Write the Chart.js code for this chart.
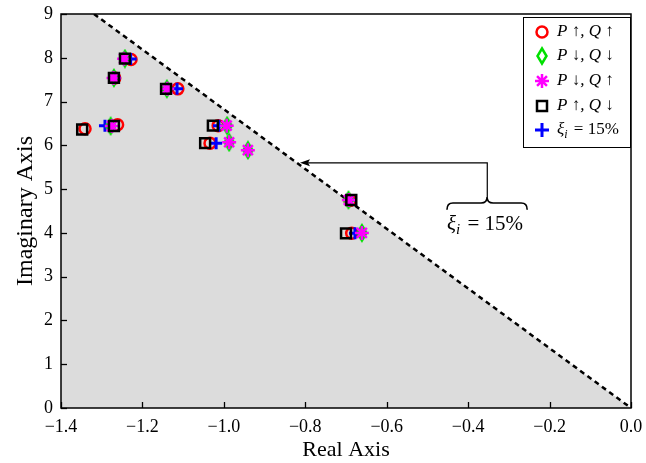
<!DOCTYPE html>
<html>
<head>
<meta charset="utf-8">
<script src="https://cdn.jsdelivr.net/npm/chart.js@4"></script>
<style>
  html, body { margin: 0; padding: 0; background: #fff; }
  #wrap { width: 646px; height: 463px; }
</style>
</head>
<body>
<div id="wrap"><canvas id="poleChart"></canvas></div>
<script>
// tick labels
var xTickLabels = ['\u22121.4', '\u22121.2', '\u22121.0', '\u22120.8', '\u22120.6', '\u22120.4', '\u22120.2', '0.0'];
var yTickLabels = ['0', '1', '2', '3', '4', '5', '6', '7', '8', '9'];

// series names
var seriesNames = ['P \u2191, Q \u2191', 'P \u2193, Q \u2193', 'P \u2193, Q \u2191', 'P \u2191, Q \u2193'];

// P up, Q up (red circles)
var upUpRe = [-1.341, -1.261, -1.228, -1.268, -1.113, -1.014, -1.034, -0.690, -0.686];
var upUpIm = [6.38, 6.47, 7.96, 7.54, 7.29, 6.45, 6.05, 4.74, 3.99];
// P down, Q down (green diamonds)
var downDownRe = [-1.278, -1.243, -1.270, -1.140, -0.992, -0.987, -0.941, -0.694, -0.661];
var downDownIm = [6.44, 7.98, 7.54, 7.29, 6.45, 6.07, 5.89, 4.75, 4.00];
// P down, Q up (magenta stars)
var downUpRe = [-1.275, -1.245, -1.271, -1.139, -0.993, -0.987, -0.941, -0.693, -0.661];
var downUpIm = [6.44, 7.98, 7.54, 7.29, 6.45, 6.07, 5.89, 4.75, 4.00];
// P up, Q down (black squares)
var upDownRe = [-1.348, -1.270, -1.243, -1.270, -1.142, -1.027, -1.046, -0.687, -0.700];
var upDownIm = [6.36, 6.44, 7.98, 7.54, 7.29, 6.45, 6.05, 4.75, 3.99];
// xi_i = 15% (blue plus)
var xi15Re = [-1.292, -1.229, -1.268, -1.115, -1.012, -1.019, -0.690, -0.678];
var xi15Im = [6.45, 7.97, 7.54, 7.29, 6.45, 6.05, 4.75, 3.99];

// 15% damping boundary (top end and origin)
var boundRe = [-1.319, 0.0];
var boundIm = [9, 0];

function toPoints(xs, ys) {
    return xs.map(function (x, i) { return { x: x, y: ys[i] }; });
}

// tall thin diamond marker (like matlab 'd')
function makeDiamond(w, h, color, lw) {
    var c = document.createElement('canvas');
    c.width = w + lw * 2;
    c.height = h + lw * 2;
    var g = c.getContext('2d');
    var cx = c.width / 2, cy = c.height / 2;
    g.strokeStyle = color;
    g.lineWidth = lw;
    g.beginPath();
    g.moveTo(cx, cy - h / 2);
    g.lineTo(cx + w / 2, cy);
    g.lineTo(cx, cy + h / 2);
    g.lineTo(cx - w / 2, cy);
    g.closePath();
    g.stroke();
    return c;
}
var diamondImg = makeDiamond(9, 15, '#00e000', 2.5);

var serif = "'Liberation Serif', 'DejaVu Serif', serif";

// draw inward ticks + frame
var frameTicks = {
    id: 'frameTicks',
    afterDatasetsDraw: function (chart) {
        var ctx = chart.ctx, a = chart.chartArea;
        var xs = chart.scales.x, ys = chart.scales.y;
        ctx.save();
        ctx.strokeStyle = '#000';
        ctx.lineWidth = 1.3;
        xs.ticks.forEach(function (t) {
            var px = Math.round(xs.getPixelForValue(t.value)) + 0.5;
            ctx.beginPath();
            ctx.moveTo(px, a.bottom);
            ctx.lineTo(px, a.bottom - 6);
            ctx.stroke();
        });
        ys.ticks.forEach(function (t) {
            var py = Math.round(ys.getPixelForValue(t.value)) + 0.5;
            ctx.beginPath();
            ctx.moveTo(a.left, py);
            ctx.lineTo(a.left + 6, py);
            ctx.stroke();
        });
        ctx.lineWidth = 1.5;
        ctx.strokeRect(a.left, a.top, a.right - a.left, a.bottom - a.top);
        ctx.restore();
    }
};

// arrow, brace and label for the 15% line
var annot = {
    id: 'annot',
    afterDatasetsDraw: function (chart) {
        var ctx = chart.ctx, xs = chart.scales.x, ys = chart.scales.y;
        var tipX = xs.getPixelForValue(-0.813);
        var cornerX = xs.getPixelForValue(-0.353);
        var lineY = ys.getPixelForValue(5.6);
        var braceTop = ys.getPixelForValue(4.82);
        var braceL = xs.getPixelForValue(-0.452);
        var braceR = xs.getPixelForValue(-0.255);
        var braceBot = ys.getPixelForValue(4.53);
        var textY = ys.getPixelForValue(4.2);
        ctx.save();
        ctx.strokeStyle = '#000';
        ctx.fillStyle = '#000';
        ctx.lineWidth = 1.2;
        ctx.beginPath();
        ctx.moveTo(tipX + 6, lineY);
        ctx.lineTo(cornerX, lineY);
        ctx.lineTo(cornerX, braceTop);
        ctx.stroke();
        // arrow head
        ctx.beginPath();
        ctx.moveTo(tipX, lineY);
        ctx.lineTo(tipX + 10, lineY - 3.5);
        ctx.lineTo(tipX + 8, lineY);
        ctx.lineTo(tipX + 10, lineY + 3.5);
        ctx.closePath();
        ctx.fill();
        // over brace
        var mid = (braceL + braceR) / 2;
        var hy = braceTop + 6;
        ctx.lineWidth = 1.6;
        ctx.beginPath();
        ctx.moveTo(braceL, braceBot);
        ctx.quadraticCurveTo(braceL, hy, braceL + 6, hy);
        ctx.lineTo(mid - 6, hy);
        ctx.quadraticCurveTo(mid, hy, mid, braceTop);
        ctx.quadraticCurveTo(mid, hy, mid + 6, hy);
        ctx.lineTo(braceR - 6, hy);
        ctx.quadraticCurveTo(braceR, hy, braceR, braceBot);
        ctx.stroke();
        // label
        drawXi(ctx, braceL, textY, 21);
        ctx.restore();
    }
};

function drawXi(ctx, x, y, size) {
    ctx.textBaseline = 'middle';
    ctx.textAlign = 'left';
    ctx.fillStyle = '#000';
    ctx.font = 'italic ' + size + 'px ' + serif;
    ctx.fillText('\u03be', x, y);
    var w = ctx.measureText('\u03be').width;
    ctx.font = 'italic ' + Math.round(size * 0.7) + 'px ' + serif;
    ctx.fillText('i', x + w, y + size * 0.3);
    var w2 = ctx.measureText('i').width;
    ctx.font = size + 'px ' + serif;
    ctx.fillText(' = 15%', x + w + w2 + 2, y);
}

// legend box in the upper right corner
var legendBox = {
    id: 'legendBox',
    afterDraw: function (chart) {
        var ctx = chart.ctx, a = chart.chartArea;
        var left = a.right - 108, top = a.top + 3, right = a.right - 1, bottom = a.top + 133;
        ctx.save();
        ctx.fillStyle = '#fff';
        ctx.fillRect(left, top, right - left, bottom - top);
        ctx.strokeStyle = '#000';
        ctx.lineWidth = 1;
        ctx.strokeRect(left + 0.5, top + 0.5, right - left, bottom - top);
        var mx = left + 19, tx = left + 34;
        var rowY = [top + 15, top + 39, top + 64, top + 89, top + 113];
        // circle
        ctx.lineWidth = 2.5;
        ctx.strokeStyle = '#ff0000';
        ctx.beginPath();
        ctx.arc(mx, rowY[0], 5.5, 0, Math.PI * 2);
        ctx.stroke();
        // diamond
        ctx.drawImage(diamondImg, mx - diamondImg.width / 2, rowY[1] - diamondImg.height / 2);
        // star
        ctx.strokeStyle = '#ff00ff';
        ctx.beginPath();
        for (var k = 0; k < 4; k++) {
            var ang = k * Math.PI / 4;
            ctx.moveTo(mx - 7 * Math.sin(ang), rowY[2] - 7 * Math.cos(ang));
            ctx.lineTo(mx + 7 * Math.sin(ang), rowY[2] + 7 * Math.cos(ang));
        }
        ctx.stroke();
        // square
        ctx.strokeStyle = '#000';
        ctx.strokeRect(mx - 5, rowY[3] - 5, 10, 10);
        // plus
        ctx.strokeStyle = '#0000ff';
        ctx.lineWidth = 3;
        ctx.beginPath();
        ctx.moveTo(mx - 7, rowY[4]);
        ctx.lineTo(mx + 7, rowY[4]);
        ctx.moveTo(mx, rowY[4] - 7);
        ctx.lineTo(mx, rowY[4] + 7);
        ctx.stroke();
        // texts
        ctx.fillStyle = '#000';
        ctx.textBaseline = 'middle';
        ctx.font = 'italic 17px ' + serif;
        for (var i = 0; i < 4; i++) {
            ctx.fillText(seriesNames[i], tx, rowY[i]);
        }
        drawXi(ctx, tx, rowY[4], 17);
        ctx.restore();
    }
};

var ctx = document.getElementById('poleChart').getContext('2d');
var poleChart = new Chart(ctx, {
    type: 'scatter',
    data: {
        datasets: [{
            // shaded region left of the 15% line
            data: [{ x: -1.4, y: boundIm[0] }].concat(toPoints(boundRe, boundIm)),
            showLine: true,
            fill: 'origin',
            backgroundColor: '#dcdcdc',
            borderWidth: 0,
            pointRadius: 0,
            order: 20
        }, {
            data: toPoints(boundRe, boundIm),
            showLine: true,
            borderColor: '#000',
            borderWidth: 2.5,
            borderDash: [5, 4],
            pointRadius: 0,
            order: 19
        }, {
            label: seriesNames[0],
            data: toPoints(upUpRe, upUpIm),
            pointStyle: 'circle',
            pointRadius: 5.5,
            borderColor: '#ff0000',
            backgroundColor: 'rgba(0,0,0,0)',
            borderWidth: 2.5,
            order: 6
        }, {
            label: 'xi15',
            data: toPoints(xi15Re, xi15Im),
            pointStyle: 'cross',
            pointRadius: 6,
            borderColor: '#0000ff',
            borderWidth: 3,
            order: 5
        }, {
            label: seriesNames[1],
            data: toPoints(downDownRe, downDownIm),
            pointStyle: diamondImg,
            order: 4
        }, {
            label: seriesNames[2],
            data: toPoints(downUpRe, downUpIm),
            pointStyle: 'star',
            pointRadius: 7,
            borderColor: '#ff00ff',
            backgroundColor: '#ff00ff',
            borderWidth: 2.5,
            order: 3
        }, {
            label: seriesNames[3],
            data: toPoints(upDownRe, upDownIm),
            pointStyle: 'rect',
            pointRadius: 7,
            borderColor: '#000000',
            backgroundColor: 'rgba(0,0,0,0)',
            borderWidth: 2.5,
            order: 2
        }]
    },
    options: {
        responsive: true,
        maintainAspectRatio: false,
        animation: false,
        events: [],
        layout: { padding: { top: 14, right: 15, left: 0, bottom: 0 } },
        plugins: {
            legend: { display: false },
            tooltip: { enabled: false }
        },
        scales: {
            x: {
                type: 'linear',
                min: -1.4,
                max: 0,
                grid: { display: false, drawTicks: false },
                border: { display: false },
                ticks: {
                    stepSize: 0.2,
                    padding: 8,
                    color: '#000',
                    font: { family: serif, size: 18 },
                    callback: function (v, i) { return xTickLabels[i]; }
                },
                title: {
                    display: true,
                    text: 'Real Axis',
                    color: '#000',
                    font: { family: serif, size: 22, lineHeight: 1.2 },
                    padding: { top: 0, bottom: 0 }
                },
                afterFit: function (s) {
                    s.height = 55;
                    s.paddingLeft = 0;
                    s.paddingRight = 0;
                }
            },
            y: {
                type: 'linear',
                min: 0,
                max: 9,
                grid: { display: false, drawTicks: false },
                border: { display: false },
                ticks: {
                    stepSize: 1,
                    padding: 8,
                    color: '#000',
                    font: { family: serif, size: 18 },
                    callback: function (v, i) { return yTickLabels[i]; }
                },
                title: {
                    display: true,
                    text: 'Imaginary Axis',
                    color: '#000',
                    font: { family: serif, size: 24, lineHeight: 1.2 },
                    padding: { top: 11, bottom: 0 }
                },
                afterFit: function (s) {
                    s.width = 61;
                    s.paddingTop = 0;
                    s.paddingBottom = 0;
                }
            }
        }
    },
    plugins: [frameTicks, annot, legendBox]
});
</script>
</body>
</html>
